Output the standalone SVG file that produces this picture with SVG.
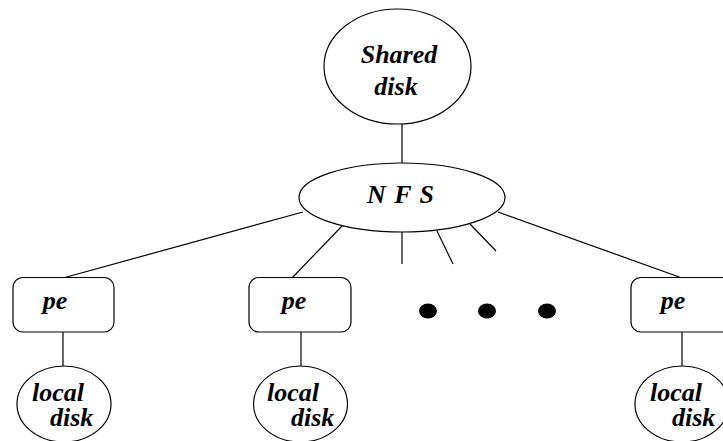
<svg xmlns="http://www.w3.org/2000/svg" width="723" height="441" viewBox="0 0 723 441">
  <style>
    .shape { fill: #fff; stroke: #000; stroke-width: 1.2; }
    .wire { stroke: #000; stroke-width: 1.2; fill: none; }
    .lbl { font-family: "Liberation Serif", "Times New Roman", serif; font-weight: bold; font-style: italic; font-size: 26px; fill: #000; }
    .mid { text-anchor: middle; }
  </style>
  <rect width="723" height="441" fill="#fff"/>

  <!-- connectors -->
  <g id="connectors" class="wire">
    <line x1="402" y1="124" x2="402" y2="163"/>
    <line x1="303" y1="212" x2="63" y2="278"/>
    <line x1="343" y1="225" x2="292" y2="278"/>
    <line x1="402" y1="232" x2="402" y2="264"/>
    <line x1="437" y1="231" x2="453" y2="264"/>
    <line x1="470" y1="224" x2="496" y2="251"/>
    <line x1="498" y1="212" x2="682" y2="278"/>
    <line x1="63" y1="332" x2="63" y2="366"/>
    <line x1="301" y1="332" x2="301" y2="366"/>
    <line x1="682" y1="332" x2="682" y2="366"/>
  </g>

  <g id="shared-disk">
    <ellipse class="shape" cx="397.5" cy="66.5" rx="73.5" ry="57.5"/>
    <text class="lbl mid" x="399" y="63">Shared</text>
    <text class="lbl mid" x="396" y="95">disk</text>
  </g>

  <g id="nfs">
    <ellipse class="shape" cx="402" cy="197.5" rx="103" ry="34.5"/>
    <text class="lbl mid" x="401" y="203" letter-spacing="1" xml:space="preserve">N F S</text>
  </g>

  <g id="pe-1">
    <rect class="shape" x="13" y="277.5" width="101" height="54.5" rx="10"/>
    <text class="lbl mid" x="55" y="309">pe</text>
  </g>
  <g id="pe-2">
    <rect class="shape" x="249" y="277.5" width="102" height="54.5" rx="10"/>
    <text class="lbl mid" x="294" y="309">pe</text>
  </g>
  <g id="pe-3">
    <rect class="shape" x="631" y="277.5" width="102" height="54.5" rx="10"/>
    <text class="lbl mid" x="673" y="309">pe</text>
  </g>

  <g id="ellipsis">
    <ellipse cx="428" cy="311" rx="9" ry="7.5" fill="#000"/>
    <ellipse cx="487" cy="311" rx="9" ry="7.5" fill="#000"/>
    <ellipse cx="547" cy="311" rx="9" ry="7.5" fill="#000"/>
  </g>

  <g id="local-disk-1">
    <ellipse class="shape" cx="64" cy="404" rx="47" ry="38"/>
    <text class="lbl" x="32" y="401">local</text>
    <text class="lbl" x="50" y="426">disk</text>
  </g>
  <g id="local-disk-2">
    <ellipse class="shape" cx="300.5" cy="404" rx="47" ry="38"/>
    <text class="lbl" x="267" y="401">local</text>
    <text class="lbl" x="291" y="426">disk</text>
  </g>
  <g id="local-disk-3">
    <ellipse class="shape" cx="682" cy="404" rx="47" ry="38"/>
    <text class="lbl" x="650" y="401">local</text>
    <text class="lbl" x="672" y="426">disk</text>
  </g>
</svg>
